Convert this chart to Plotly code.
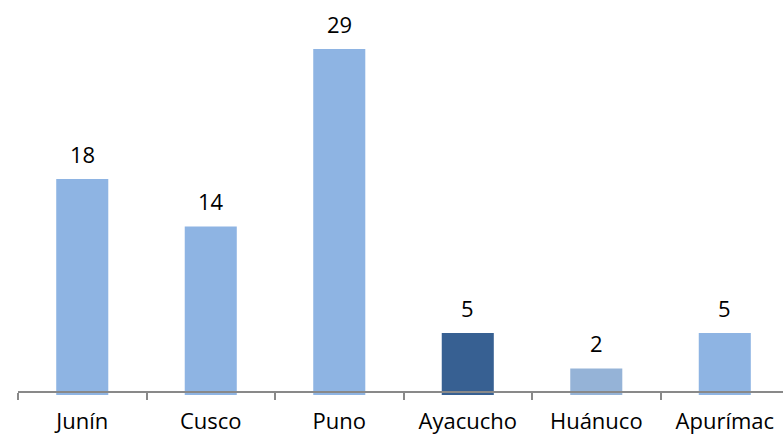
import plotly.graph_objects as go

categories = ["Junín", "Cusco", "Puno", "Ayacucho", "Huánuco", "Apurímac"]
values = [18, 14, 29, 5, 2, 5]
colors = ["#8EB4E3", "#8EB4E3", "#8EB4E3", "#376092", "#95B3D7", "#8EB4E3"]

overhang = 0.25  # bars drawn slightly below the axis line, as in the original
y_top = 33.14
y_bottom = -overhang

fig = go.Figure()
fig.add_trace(go.Bar(
    x=categories,
    y=[v + overhang for v in values],
    base=-overhang,
    marker=dict(color=colors, line=dict(width=0)),
    width=0.405,
    hoverinfo="skip",
))

for c, v in zip(categories, values):
    fig.add_annotation(x=c, y=v, text=str(v), showarrow=False,
                       yanchor="bottom", yshift=8,
                       font=dict(family="Open Sans", size=22, color="#000000"))

axis_pos = overhang / (y_top - y_bottom)

fig.update_layout(
    width=783, height=436,
    margin=dict(l=18, r=0, t=0, b=41),
    paper_bgcolor="white", plot_bgcolor="white",
    showlegend=False,
    font=dict(family="Open Sans", size=22, color="#000000"),
    xaxis=dict(
        type="category",
        range=[-0.5, 5.453],
        showline=True, linecolor="#898989", linewidth=1.5,
        ticks="outside", tickson="boundaries", ticklen=7, tickwidth=1.5,
        tickcolor="#898989",
        ticklabelstandoff=10,
        showgrid=False, zeroline=False,
        anchor="free", position=axis_pos,
        layer="above traces",
        automargin=False,
        tickfont=dict(family="Open Sans", size=22, color="#000000"),
    ),
    yaxis=dict(
        range=[y_bottom, y_top],
        visible=False, showgrid=False, zeroline=False,
    ),
)

fig.write_html("out.html", config={"displayModeBar": False},
               post_script="document.body.style.margin='0';document.body.style.padding='0';")
